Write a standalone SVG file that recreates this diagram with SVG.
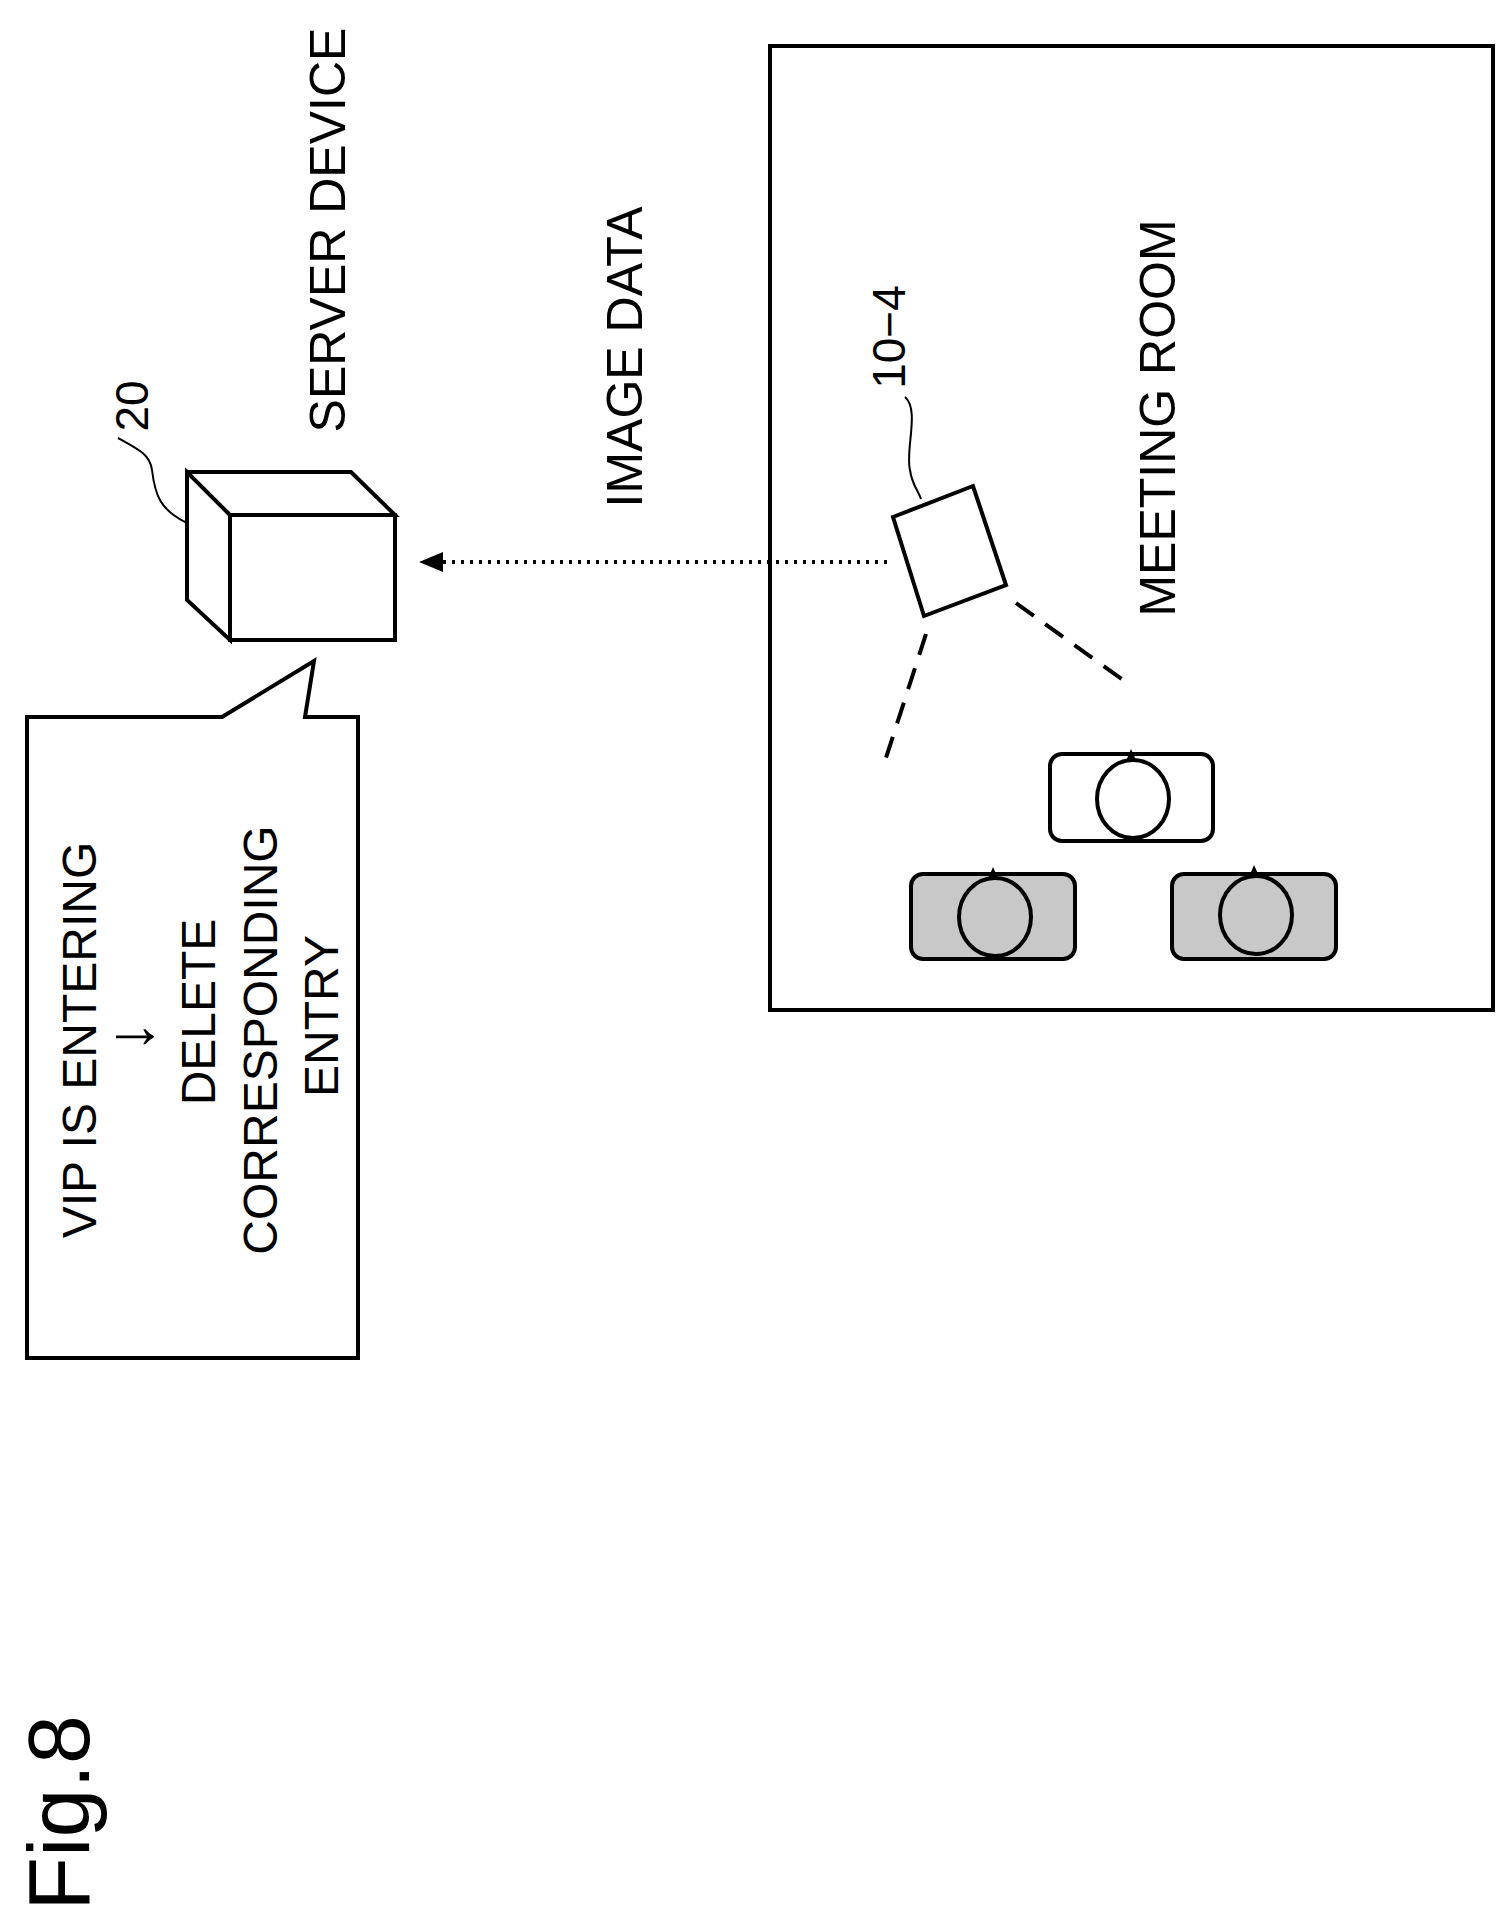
<svg xmlns="http://www.w3.org/2000/svg" width="1511" height="1924" viewBox="0 0 1511 1924">
<style>
.t{font-family:"Liberation Sans",Arial,sans-serif;fill:#000;text-anchor:middle}
.s{fill:none;stroke:#000;stroke-width:4}
.w{fill:#fff;stroke:#000;stroke-width:4}
.g{fill:#c8c8c8;stroke:#000;stroke-width:4}
</style>
<defs><marker id="ah" markerWidth="24" markerHeight="24" refX="22" refY="12" orient="auto" markerUnits="userSpaceOnUse" viewBox="0 0 24 24"><path d="M0,2 L24,12 L0,22 Z" fill="#000"/></marker></defs>
<rect width="1511" height="1924" fill="#fff"/>
<g id="room"><rect x="770" y="46" width="723" height="964" class="s"/>
<text class="t" font-size="50" transform="translate(1175,418) rotate(-90)">MEETING ROOM</text></g>
<g id="server">
<path d="M230,515 L187,472 L187,600 L230,640 Z M187,472 L351,472 L395,515 L230,515" class="w"/>
<rect x="230" y="515" width="165" height="125" class="w"/>
<path d="M187,523 C160,510 155,495 152,470 C150,455 140,450 118,438" fill="none" stroke="#000" stroke-width="2"/>
<text class="t" font-size="46" transform="translate(148,406) rotate(-90)">20</text>
<text class="t" font-size="50" transform="translate(345,230) rotate(-90)">SERVER DEVICE</text></g>
<g id="camera">
<polygon points="893,517 973,486 1006,585 924,616" class="w"/>
<path d="M905,397 C920,410 905,450 910,470 C912,485 918,490 921,499" fill="none" stroke="#000" stroke-width="2"/>
<text class="t" font-size="46" transform="translate(905,337) rotate(-90)">10−4</text>
<path d="M926,634 L884,764 M1016,603 L1123,680" class="s" stroke-dasharray="22,14"/></g>
<g id="desk1"><rect x="1050" y="754" width="163" height="87" rx="12" class="w"/><ellipse cx="1133" cy="799" rx="36" ry="39" class="w"/><path d="M1126,761 L1131,749 L1136,760 Z" fill="#000"/></g>
<g id="desk2"><rect x="911" y="874" width="164" height="85" rx="12" class="g"/><ellipse cx="995" cy="917" rx="36" ry="39" class="g"/><path d="M988,879 L993,867 L998,878 Z" fill="#000"/></g>
<g id="desk3"><rect x="1172" y="874" width="164" height="85" rx="12" class="g"/><ellipse cx="1256" cy="915" rx="36" ry="39" class="g"/><path d="M1249,877 L1254,865 L1259,876 Z" fill="#000"/></g>
<g id="bubble"><path d="M222,717 L314,661 L305,717 L358,717 L358,1358 L27,1358 L27,717 Z" class="w"/>
<text class="t" font-size="48" transform="translate(96,1040) rotate(-90)">VIP IS ENTERING</text>
<text class="t" font-size="64" transform="translate(152,1037) rotate(-90)">↓</text>
<text class="t" font-size="48" transform="translate(215,1012) rotate(-90)">DELETE</text>
<text class="t" font-size="48" transform="translate(277,1040) rotate(-90)">CORRESPONDING</text>
<text class="t" font-size="48" transform="translate(338,1016) rotate(-90)">ENTRY</text></g>
<g id="connectors"><line x1="887" y1="562" x2="421" y2="562" stroke="#000" stroke-width="4" stroke-dasharray="3,6" marker-end="url(#ah)"/>
<text class="t" font-size="50" transform="translate(642,357) rotate(-90)">IMAGE DATA</text></g>
<text class="t" font-size="88" transform="translate(89,1813) rotate(-90)">Fig.8</text>
</svg>
